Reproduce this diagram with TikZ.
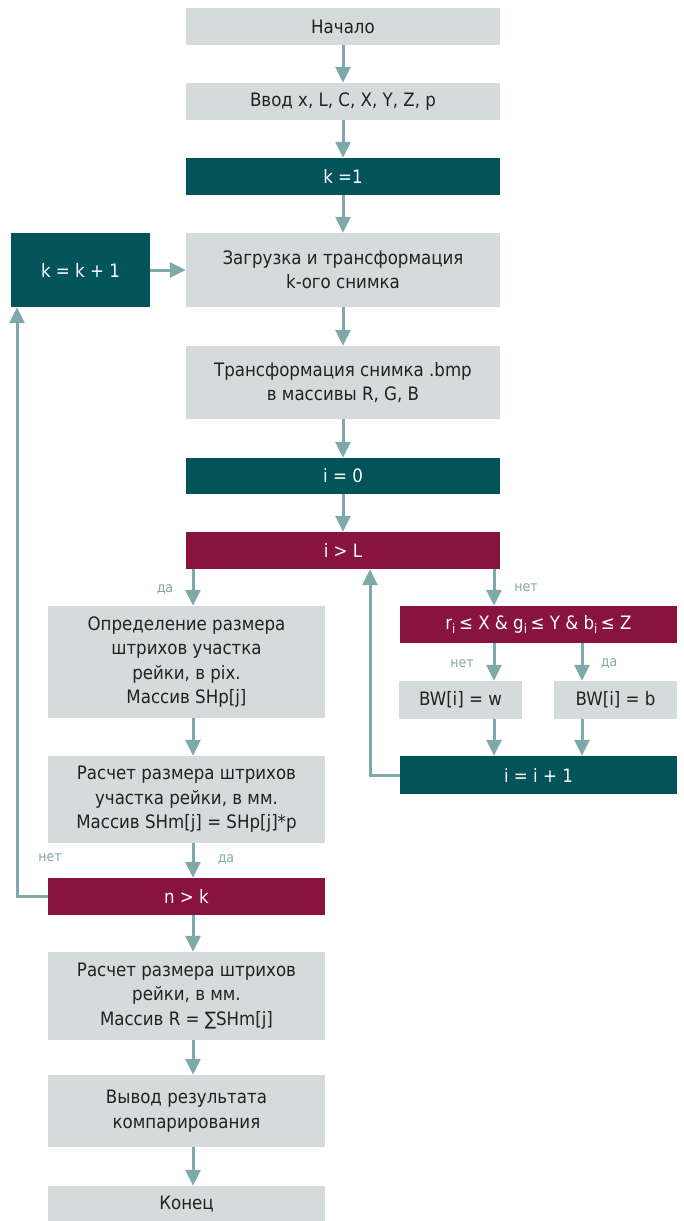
\documentclass[tikz,border=0pt]{standalone}
\usepackage{fontspec}
\setmainfont{DejaVu Sans Condensed}
\usetikzlibrary{arrows.meta,calc}
\definecolor{boxgray}{HTML}{D5DADA}
\definecolor{boxteal}{HTML}{03535B}
\definecolor{boxred}{HTML}{88133D}
\definecolor{arrcol}{HTML}{7FA8A8}
\definecolor{txt}{HTML}{222222}
\begin{document}
\begin{tikzpicture}[x=1pt,y=-1pt,
  base/.style={rectangle,inner sep=0pt,align=center,font=\fontsize{18.5}{24.5}\selectfont},
  gbox/.style={base,fill=boxgray,text=txt},
  tbox/.style={base,fill=boxteal,text=white},
  rbox/.style={base,fill=boxred,text=white},
  arr/.style={draw=arrcol,line width=3pt,-{Triangle[width=15pt,length=16pt]}},
  lab/.style={text=arrcol,font=\fontsize{14}{16}\selectfont,inner sep=0pt}]
\useasboundingbox (0,0) rectangle (683,1221);
% main column
\node[gbox,minimum width=314,minimum height=37] (start) at (343,26.5) {Начало};
\node[gbox,minimum width=314,minimum height=37] (input) at (343,101.5) {Ввод x, L, C, X, Y, Z, p};
\node[tbox,minimum width=314,minimum height=37] (k1) at (343,176.5) {k =1};
\node[tbox,minimum width=139,minimum height=74] (kinc) at (80.5,270) {k = k + 1};
\node[gbox,minimum width=314,minimum height=74] (load) at (343,270) {Загрузка и трансформация\\k-ого снимка};
\node[gbox,minimum width=314,minimum height=73] (trans) at (343,382.5) {Трансформация снимка .bmp\\в массивы R, G, B};
\node[tbox,minimum width=314,minimum height=36] (i0) at (343,476) {i = 0};
\node[rbox,minimum width=314,minimum height=37] (ilt) at (343,550.5) {i > L};
% right branch
\node[rbox,minimum width=277,minimum height=37] (cond) at (538.5,624.5) {r\textsubscript{i}\,≤ X \& g\textsubscript{i}\,≤ Y \& b\textsubscript{i}\,≤ Z};
\node[gbox,minimum width=123,minimum height=38] (bww) at (460.5,700) {BW[i] = w};
\node[gbox,minimum width=123,minimum height=38] (bwb) at (615.5,700) {BW[i] = b};
\node[tbox,minimum width=277,minimum height=38] (iinc) at (538.5,775) {i = i + 1};
% left column
\node[gbox,minimum width=277,minimum height=112] (def) at (186.5,662) {Определение размера\\штрихов участка\\рейки, в pix.\\Массив SHp[j]};
\node[gbox,minimum width=277,minimum height=87] (calc1) at (186.5,799.5) {Расчет размера штрихов\\участка рейки, в мм.\\Массив SHm[j] = SHp[j]*p};
\node[rbox,minimum width=277,minimum height=37] (nk) at (186.5,896.5) {n > k};
\node[gbox,minimum width=277,minimum height=88] (calc2) at (186.5,996) {Расчет размера штрихов\\рейки, в мм.\\Массив R = ∑SHm[j]};
\node[gbox,minimum width=277,minimum height=72] (out) at (186.5,1111) {Вывод результата\\компарирования};
\node[gbox,minimum width=277,minimum height=36] (end) at (186.5,1204) {Конец};
% connectors
\draw[arr] (start) -- (input);
\draw[arr] (input) -- (k1);
\draw[arr] (k1) -- (load);
\draw[arr] (load) -- (trans);
\draw[arr] (trans) -- (i0);
\draw[arr] (i0) -- (ilt);
\draw[arr] (kinc) -- (load);
\draw[arr] ([xshift=-150pt]ilt.south) -- ([xshift=6.5pt]def.north);
\draw[arr] ([xshift=151pt]ilt.south) -- ([xshift=-44.5pt]cond.north);
\draw[arr] ([xshift=-44.5pt]cond.south) -- ([xshift=33.5pt]bww.north);
\draw[arr] ([xshift=43.5pt]cond.south) -- ([xshift=-33.5pt]bwb.north);
\draw[arr] ([xshift=33.5pt]bww.south) -- ([xshift=-44.5pt]iinc.north);
\draw[arr] ([xshift=-33.5pt]bwb.south) -- ([xshift=43.5pt]iinc.north);
\coordinate (up1) at (370,775);
\draw[arr] (iinc.west) -- (up1) -- ([xshift=27pt]ilt.south);
\draw[arr] ([xshift=6.5pt]def.south) -- ([xshift=6.5pt]calc1.north);
\draw[arr] ([xshift=6.5pt]calc1.south) -- ([xshift=6.5pt]nk.north);
\coordinate (lp) at (17,896.5);
\draw[arr] (nk.west) -- (lp) -- ([xshift=-63.5pt]kinc.south);
\draw[arr] ([xshift=6.5pt]nk.south) -- ([xshift=6.5pt]calc2.north);
\draw[arr] ([xshift=6.5pt]calc2.south) -- ([xshift=6.5pt]out.north);
\draw[arr] ([xshift=6.5pt]out.south) -- ([xshift=6.5pt]end.north);
% labels
\node[lab] (l1) at (165,590) {да};
\node[lab] (l2) at (526,588) {нет};
\node[lab] (l3) at (462,664) {нет};
\node[lab] (l4) at (609,664) {да};
\node[lab] (l5) at (226,860) {да};
\node[lab] (l6) at (50,858) {нет};
\end{tikzpicture}
\end{document}
